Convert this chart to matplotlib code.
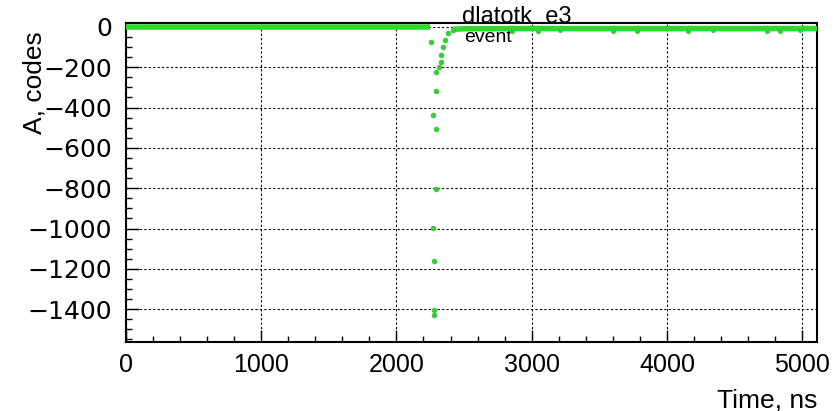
import matplotlib.pyplot as plt
from matplotlib.ticker import MultipleLocator

# Baseline before the pulse (drawn as thick band)
base_t = [0, 500, 1000, 1500, 2000, 2250]
base_a = [0, 0, 0, 0, 0, 0]

# Pulse samples (ns, codes)
pulse_t = [2259, 2296, 2267, 2296, 2289, 2267, 2281, 2274, 2281,
           2296, 2311, 2326, 2333, 2341, 2356, 2378, 2415]
pulse_a = [-74, -318, -437, -506, -804, -997, -1161, -1404, -1429,
           -223, -199, -174, -139, -99, -65, -30, -15]

# Tail after the pulse
tail_t = [2415, 2500, 3000, 3500, 4000, 4500, 5110]
tail_a = [-12, -9, -8, -8, -8, -8, -8]

# Scattered low samples in the tail
low_t = [2855, 3047, 3210, 3602, 3780, 4157, 4341, 4741, 4837, 4985]
low_a = [-18, -20, -17, -18, -20, -18, -17, -20, -18, -17]

green = '#2ed82e'
dot = '#3acb3a'

fig = plt.figure(figsize=(8.39, 4.11), dpi=100)
ax = fig.add_axes([126 / 839, 1 - 342 / 411, 691 / 839, (342 - 23.5) / 411])

ax.plot(base_t, base_a, color=green, lw=4, solid_capstyle='butt', zorder=3)
ax.plot(tail_t, tail_a, color=green, lw=4, solid_capstyle='butt', zorder=3)
ax.scatter(pulse_t, pulse_a, s=16, marker='o', color=dot, linewidths=0, zorder=4)
ax.scatter(low_t, low_a, s=14, marker='o', color=dot, linewidths=0, zorder=4)

ax.set_xlim(0, 5110)
ax.set_ylim(-1563, 17)

ax.xaxis.set_major_locator(MultipleLocator(1000))
ax.xaxis.set_minor_locator(MultipleLocator(200))
ax.yaxis.set_major_locator(MultipleLocator(200))
ax.yaxis.set_minor_locator(MultipleLocator(50))

ax.grid(True, which='major', color='black', linestyle=(0, (2, 2)), linewidth=0.8)
ax.set_axisbelow(True)

ax.tick_params(which='both', direction='in', top=False, right=False, color='black')
ax.tick_params(which='major', length=9, width=1)
ax.tick_params(which='minor', length=4, width=1)
ax.tick_params(axis='x', which='major', pad=8)
ax.tick_params(axis='y', which='major', pad=10)

for lab in ax.get_xticklabels():
    lab.set_fontfamily('Liberation Sans')
    lab.set_fontsize(18)
for lab in ax.get_yticklabels():
    lab.set_fontfamily('DejaVu Sans')
    lab.set_fontsize(18)

for sp in ax.spines.values():
    sp.set_linewidth(1.5)
    sp.set_color('black')

ax.set_xlabel('Time, ns', fontsize=19, family='Liberation Sans', loc='right', labelpad=8)
ax.set_ylabel('A, codes', fontsize=19, family='Liberation Sans', loc='top')
ax.yaxis.set_label_coords(-0.115, 0.975)

# Overlapping title strings, as in the original canvas
fig.text(0.616, 1 - 23 / 411, 'dlatotk  e3', fontsize=17, family='Liberation Sans',
         ha='center', va='baseline', zorder=5)
ax.text(0.524, 0.984, 'event', fontsize=14, family='Liberation Sans', ha='center', va='top',
        transform=ax.transAxes, zorder=2)

plt.savefig('out.png', dpi=100)
